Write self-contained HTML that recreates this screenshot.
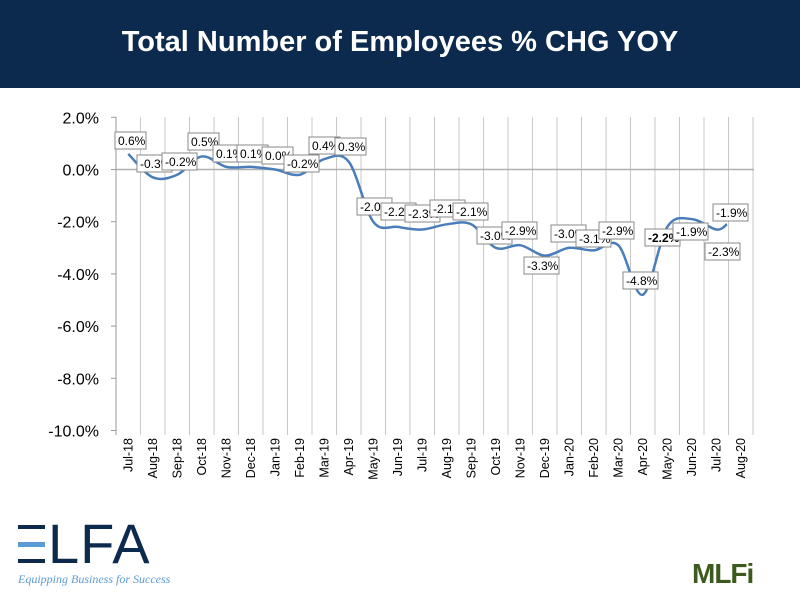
<!DOCTYPE html>
<html><head><meta charset="utf-8"><style>
body{margin:0;width:800px;height:600px;background:#fff;overflow:hidden;font-family:"Liberation Sans",sans-serif}
.hdr{position:absolute;left:0;top:0;width:800px;height:88px;background:#0c2a4e;color:#fff;font-weight:bold;font-size:29px;text-align:center;line-height:84px}
.bar{position:absolute;left:18px;width:27px;height:4px;background:#0c2a4e}
</style></head><body>
<div class="hdr">Total Number of Employees % CHG YOY</div>
<svg id="s" width="800" height="600" style="position:absolute;left:0;top:0" font-family="Liberation Sans, sans-serif"></svg>
<div class="bar" style="top:525px"></div>
<div class="bar" style="top:542px;background:#5b9bd5;height:5px"></div>
<div class="bar" style="top:559px"></div>
<div style="position:absolute;left:48px;top:516px;font-family:'Liberation Sans',sans-serif;font-size:56px;color:#0c2a4e;letter-spacing:1px;line-height:56px">LFA</div>
<div style="position:absolute;left:18px;top:572px;font-family:'Liberation Serif',serif;font-style:italic;font-size:12px;color:#5b9bd5">Equipping Business for Success</div>
<div style="position:absolute;left:692px;top:558px;font-family:'Liberation Sans',sans-serif;font-weight:bold;font-size:28px;color:#3d5a1e;letter-spacing:-1px">MLFi</div>
<script>
const s=document.getElementById('s');let h='';
const L=116,W=24.5,Y0=169.5,K=26.1;
const y=v=>Y0-v*K;
for(let v=2;v>=-10;v-=2){const yy=y(v);h+=`<text x="99" y="${yy+6}" font-size="16" text-anchor="end" fill="#000">${v.toFixed(1)}%</text><line x1="111" x2="116" y1="${yy}" y2="${yy}" stroke="#999"/>`;}
for(let i=0;i<=26;i++){const x=L+i*W;h+=`<line x1="${x}" x2="${x}" y1="117" y2="435" stroke="#c8c8c8" stroke-width="1"/>`;}
h+=`<line x1="116" x2="116" y1="117" y2="435" stroke="#999"/>`;
h+=`<line x1="116" x2="754" y1="${Y0}" y2="${Y0}" stroke="#b0b0b0" stroke-width="1.5"/>`;
const cats=["Jul-18","Aug-18","Sep-18","Oct-18","Nov-18","Dec-18","Jan-19","Feb-19","Mar-19","Apr-19","May-19","Jun-19","Jul-19","Aug-19","Sep-19","Oct-19","Nov-19","Dec-19","Jan-20","Feb-20","Mar-20","Apr-20","May-20","Jun-20","Jul-20","Aug-20"];
cats.forEach((c,i)=>{const x=L+W*(i+0.5)+4;h+=`<text transform="translate(${x},438) rotate(-90)" font-size="12.5" text-anchor="end" fill="#000">${c}</text>`;});
const vals=[0.6,-0.3,-0.2,0.5,0.1,0.1,0.0,-0.2,0.4,0.3,-2.0,-2.2,-2.3,-2.1,-2.1,-3.0,-2.9,-3.3,-3.0,-3.1,-2.9,-4.8,-2.2,-1.9,-2.3,-2.1];
const P=vals.map((v,i)=>[L+W*(i+0.5),y(v)]);P[25][0]=727;
let d=`M${P[0][0]},${P[0][1]}`;
for(let i=0;i<P.length-1;i++){const p0=P[Math.max(0,i-1)],p1=P[i],p2=P[i+1],p3=P[Math.min(P.length-1,i+2)];const t=6;
d+=` C${p1[0]+(p2[0]-p0[0])/t},${p1[1]+(p2[1]-p0[1])/t} ${p2[0]-(p3[0]-p1[0])/t},${p2[1]-(p3[1]-p1[1])/t} ${p2[0]},${p2[1]}`;}
h+=`<path d="${d}" fill="none" stroke="#4a7ebb" stroke-width="2.5"/>`;
const labs=[["0.6%",115,132],["-0.3%",137,155],["-0.2%",162,153],["0.5%",188,133],["0.1%",213,145],["0.1%",237,145],["0.0%",262,147],["-0.2%",284,155],["0.4%",309,137],["0.3%",335,138],["-2.0%",357,198],["-2.2%",381,203],["-2.3%",405,205],["-2.1%",430,200],["-2.1%",453,203],["-3.0%",477,227],["-2.9%",502,222],["-3.3%",524,257],["-3.0%",551,225],["-3.1%",576,230],["-2.9%",599,222],["-4.8%",623,272],["-2.2%",645,229,1],["-1.9%",673,223],["-2.3%",705,243],["-1.9%",713,204]];
labs.forEach(l=>{const w=l[0].length>4?35:31;h+=`<rect x="${l[1]}" y="${l[2]}" width="${w}" height="17" fill="#fff" stroke="#888"/><text x="${l[1]+3}" y="${l[2]+13}" font-size="12" ${l[3]?'font-weight="bold"':''} fill="#000">${l[0]}</text>`;});
s.innerHTML=h;
</script>
</body></html>
